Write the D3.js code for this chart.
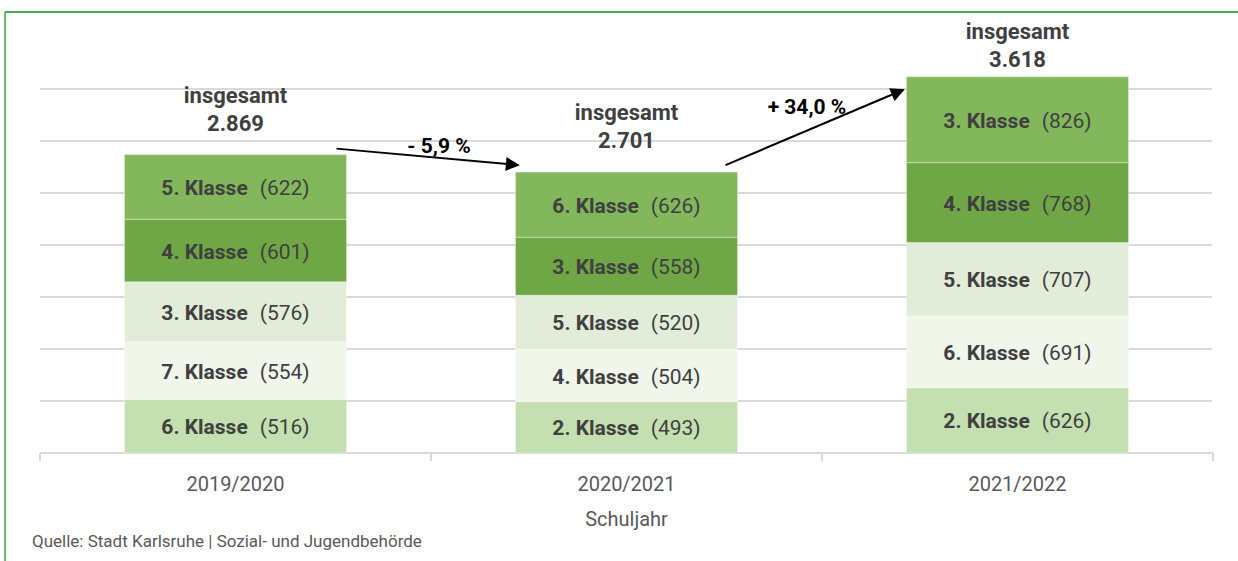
<!DOCTYPE html>
<meta charset="utf-8">
<style>
  body { margin: 0; background: #fff; }
  text { font-family: Roboto, "Open Sans", sans-serif; }
</style>
<body>
<script src="https://cdn.jsdelivr.net/npm/d3@7"></script>
<script>

// school years (x axis)
var years = ["2019/2020", "2020/2021", "2021/2022"];

// stacked segments per year, bottom to top
var classes2019 = ["6. Klasse", "7. Klasse", "3. Klasse", "4. Klasse", "5. Klasse"];
var values2019 = [516, 554, 576, 601, 622];
var classes2020 = ["2. Klasse", "4. Klasse", "5. Klasse", "3. Klasse", "6. Klasse"];
var values2020 = [493, 504, 520, 558, 626];
var classes2021 = ["2. Klasse", "6. Klasse", "5. Klasse", "4. Klasse", "3. Klasse"];
var values2021 = [626, 691, 707, 768, 826];

var gridTicks = [0, 500, 1000, 1500, 2000, 2500, 3000, 3500];

// fill by stack position (bottom to top)
var posColors = ["#c4dfb0", "#f1f6eb", "#e2edd9", "#6fa746", "#83b75c"];

var width = 1238,
    height = 561;

var svg = d3.select("body").append("svg")
    .attr("width", width)
    .attr("height", height);

var stacks = [
  {year: years[0], classes: classes2019, values: values2019},
  {year: years[1], classes: classes2020, values: values2020},
  {year: years[2], classes: classes2021, values: values2021}
];
stacks.forEach(function(s) {
  var acc = 0;
  s.segs = s.values.map(function(v, i) {
    var seg = {name: s.classes[i], value: v, y0: acc, y1: acc + v, pos: i};
    acc += v;
    return seg;
  });
  s.total = acc;
});

var x = d3.scaleBand()
    .domain(years)
    .range([40, 1213])
    .paddingInner(0.432)
    .paddingOuter(0.216);

var y = d3.scaleLinear()
    .domain([0, 3500])
    .range([453, 89]);

// green frame
svg.append("line").attr("x1", 5).attr("x2", width).attr("y1", 12).attr("y2", 12)
    .attr("stroke", "#46b246").attr("stroke-width", 2);
svg.append("line").attr("x1", 5).attr("x2", 5).attr("y1", 12).attr("y2", height)
    .attr("stroke", "#6cc06c").attr("stroke-width", 2);

// grid
svg.append("g").selectAll("line")
    .data(gridTicks.slice(1))
    .enter().append("line")
    .attr("x1", 40).attr("x2", 1212)
    .attr("y1", function(d) { return y(d); })
    .attr("y2", function(d) { return y(d); })
    .attr("stroke", "#d9d9d9").attr("stroke-width", 2);

// x axis
var xAxis = d3.axisBottom(x).tickSize(0).tickPadding(24);
var gx = svg.append("g")
    .attr("transform", "translate(0," + y(0) + ")")
    .call(xAxis);
gx.select(".domain").remove();
gx.selectAll("text")
    .attr("font-size", 20).attr("fill", "#595959")
    .style("font-family", "Roboto, sans-serif");
gx.append("line").attr("x1", 40).attr("x2", 1213).attr("y1", 0).attr("y2", 0)
    .attr("stroke", "#d9d9d9").attr("stroke-width", 2);
var step = x.step();
gx.selectAll(".sep")
    .data(d3.range(years.length + 1))
    .enter().append("line")
    .attr("x1", function(i) { return 40 + i * step; })
    .attr("x2", function(i) { return 40 + i * step; })
    .attr("y1", 0).attr("y2", 8)
    .attr("stroke", "#d9d9d9").attr("stroke-width", 2);

svg.append("text")
    .attr("x", x(years[1]) + x.bandwidth() / 2).attr("y", 526)
    .attr("text-anchor", "middle").attr("font-size", 20).attr("fill", "#595959")
    .text("Schuljahr");

svg.append("text")
    .attr("x", 32).attr("y", 547)
    .attr("font-size", 17).attr("fill", "#595959")
    .text("Quelle: Stadt Karlsruhe | Sozial- und Jugendbehörde");

// bars
var bars = svg.append("g").selectAll("g")
    .data(stacks)
    .enter().append("g")
    .attr("transform", function(d) { return "translate(" + x(d.year) + ",0)"; });

bars.selectAll("rect")
    .data(function(d) { return d.segs; })
    .enter().append("rect")
    .attr("x", 0)
    .attr("width", x.bandwidth())
    .attr("y", function(d) { return y(d.y1); })
    .attr("height", function(d) { return y(d.y0) - y(d.y1); })
    .attr("fill", function(d) { return posColors[d.pos]; })
    .attr("stroke", "#ffffff").attr("stroke-opacity", 0.35).attr("stroke-width", 1);

var lbl = bars.selectAll("text.seg")
    .data(function(d) { return d.segs; })
    .enter().append("text")
    .attr("class", "seg")
    .attr("x", x.bandwidth() / 2)
    .attr("y", function(d) { return (y(d.y0) + y(d.y1)) / 2 + 8; })
    .attr("text-anchor", "middle")
    .attr("font-size", 21).attr("fill", "#404040");
lbl.append("tspan").attr("font-weight", "bold").text(function(d) { return d.name; });
lbl.append("tspan").attr("dx", 12).text(function(d) { return "(" + d.value + ")"; });

// totals
var de = d3.formatLocale({decimal: ",", thousands: ".", grouping: [3], currency: ["", " €"]});
var fmtTotal = de.format(",d");
var fmtPct = de.format(".1f");

bars.each(function(d) {
  var g = d3.select(this);
  var base = Math.max(y(d.total) - 24, 67);
  g.append("text")
      .attr("x", x.bandwidth() / 2).attr("y", base - 28)
      .attr("text-anchor", "middle").attr("font-size", 22).attr("font-weight", "bold")
      .attr("fill", "#404040").text("insgesamt");
  g.append("text")
      .attr("x", x.bandwidth() / 2).attr("y", base)
      .attr("text-anchor", "middle").attr("font-size", 22).attr("font-weight", "bold")
      .attr("fill", "#404040").text(fmtTotal(d.total));
});

// change arrows
svg.append("defs").append("marker")
    .attr("id", "head")
    .attr("viewBox", "0 0 10 10")
    .attr("refX", 9).attr("refY", 5)
    .attr("markerWidth", 8).attr("markerHeight", 7)
    .attr("markerUnits", "strokeWidth")
    .attr("orient", "auto")
  .append("path").attr("d", "M0,0L10,5L0,10Z").attr("fill", "#000");

var bw = x.bandwidth();
var arrows = [
  {x1: x(years[0]) + bw - 10, y1: y(stacks[0].total) - 6,
   x2: x(years[1]) + 3, y2: y(stacks[1].total) - 7,
   from: stacks[0].total, to: stacks[1].total, lx: 439, ly: 153},
  {x1: x(years[1]) + bw - 12, y1: y(stacks[1].total) - 7,
   x2: x(years[2]) - 3, y2: y(stacks[2].total) + 13,
   from: stacks[1].total, to: stacks[2].total, lx: 807, ly: 114}
];

arrows.forEach(function(a) {
  svg.append("line")
      .attr("x1", a.x1).attr("y1", a.y1).attr("x2", a.x2).attr("y2", a.y2)
      .attr("stroke", "#000").attr("stroke-width", 2)
      .attr("marker-end", "url(#head)");
  var pct = (a.to - a.from) / a.from * 100;
  svg.append("text")
      .attr("x", a.lx).attr("y", a.ly)
      .attr("text-anchor", "middle").attr("font-size", 21).attr("font-weight", "bold")
      .attr("fill", "#000")
      .text((pct < 0 ? "- " : "+ ") + fmtPct(Math.abs(pct)) + " %");
});

</script>
</body>
